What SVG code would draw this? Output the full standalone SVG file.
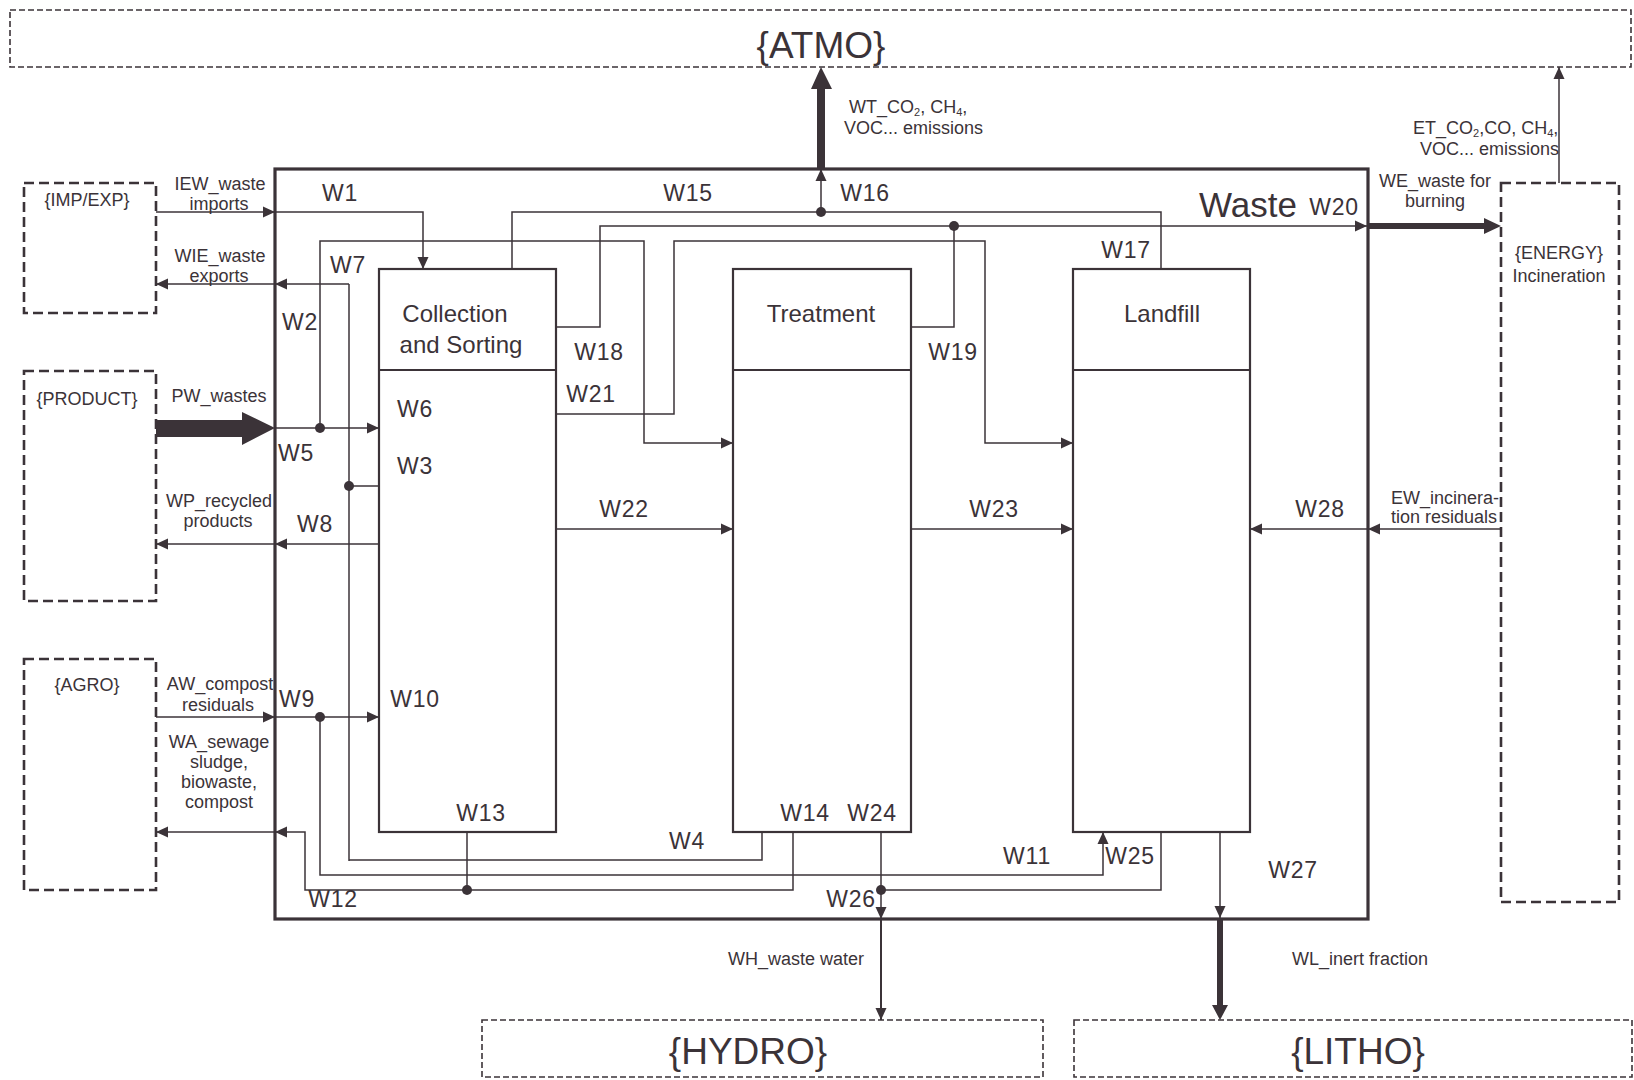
<svg xmlns="http://www.w3.org/2000/svg" width="1634" height="1080" viewBox="0 0 1634 1080">
<defs>
<style>
text{font-family:"Liberation Sans",Arial,sans-serif;fill:#3b3338}
.big{font-size:37px;text-anchor:middle}
.env{font-size:18px;text-anchor:middle}
.lab{font-size:18px;text-anchor:middle}
.w{font-size:23px;text-anchor:middle;letter-spacing:0.8px}
.t{font-size:24px;text-anchor:middle}
.sub{font-size:11px}
.dashA{fill:none;stroke:#3b3338;stroke-width:1.6;stroke-dasharray:6 3}
.dashB{fill:none;stroke:#3b3338;stroke-width:2.6;stroke-dasharray:10 5}
.box{fill:none;stroke:#3b3338;stroke-width:2.2}
.main{fill:none;stroke:#3b3338;stroke-width:3.2}
.c{fill:none;stroke:#3b3338;stroke-width:1.5}
.ca{fill:none;stroke:#3b3338;stroke-width:1.5;marker-end:url(#ah)}
.dot{fill:#3b3338}
.fill{fill:#3b3338;stroke:none}
</style>
<marker id="ah" markerUnits="userSpaceOnUse" markerWidth="12" markerHeight="12" viewBox="0 0 12 12" refX="12" refY="6" orient="auto"><path d="M0,0.5 L12,6 L0,11.5z" fill="#3b3338"/></marker>
</defs>
<rect width="1634" height="1080" fill="#ffffff"/>

<g id="atmo"><rect class="dashA" x="10" y="10" width="1621" height="57"/><text class="big" x="821" y="58">{ATMO}</text></g>
<g id="hydro"><rect class="dashA" x="482" y="1020" width="561" height="57"/><text class="big" x="748" y="1064">{HYDRO}</text></g>
<g id="litho"><rect class="dashA" x="1074" y="1020" width="558" height="57"/><text class="big" x="1358" y="1064">{LITHO}</text></g>
<g id="impexp"><rect class="dashB" x="24" y="183" width="132" height="130"/><text class="env" x="87" y="206">{IMP/EXP}</text></g>
<g id="product"><rect class="dashB" x="24" y="371" width="132" height="230"/><text class="env" x="87" y="405">{PRODUCT}</text></g>
<g id="agro"><rect class="dashB" x="24" y="659" width="132" height="231"/><text class="env" x="87" y="691">{AGRO}</text></g>
<g id="energy"><rect class="dashB" x="1501" y="183" width="118" height="719"/><text class="env" x="1559" y="259">{ENERGY}</text><text class="env" x="1559" y="282">Incineration</text></g>

<g id="waste"><rect class="main" x="275" y="169" width="1093" height="750"/><text x="1248" y="217" style="font-size:35px;text-anchor:middle">Waste</text></g>
<g id="collection"><rect class="box" x="379" y="269" width="177" height="563"/><line class="box" x1="379" y1="370" x2="556" y2="370"/><text class="t" x="455" y="322">Collection</text><text class="t" x="461" y="353">and Sorting</text></g>
<g id="treatment"><rect class="box" x="733" y="269" width="178" height="563"/><line class="box" x1="733" y1="370" x2="911" y2="370"/><text class="t" x="821" y="322">Treatment</text></g>
<g id="landfill"><rect class="box" x="1073" y="269" width="177" height="563"/><line class="box" x1="1073" y1="370" x2="1250" y2="370"/><text class="t" x="1162" y="322">Landfill</text></g>

<g id="connectors">
<path class="ca" d="M156,212 H275"/>
<path class="ca" d="M275,212 H423 V269"/>
<path class="c" d="M349,861 V284"/>
<path class="ca" d="M349,284 H275"/>
<path class="ca" d="M275,284 H156"/>
<path class="c" d="M379,486 H349"/>
<path class="c" d="M762,832 V860 H349"/>
<polygon class="fill" points="156,420 242,420 242,412 275,428 242,445 242,437 156,437"/>
<path class="ca" d="M275,428 H379"/>
<path class="ca" d="M320,428 V241 H644 V443 H733"/>
<path class="ca" d="M379,544 H275"/>
<path class="ca" d="M275,544 H156"/>
<path class="ca" d="M156,717 H275"/>
<path class="ca" d="M275,717 H379"/>
<path class="ca" d="M320,717 V875 H1103 V832"/>
<path class="c" d="M467,832 V890"/>
<path class="ca" d="M793,832 V890 H305 V832 H275"/>
<path class="ca" d="M275,832 H156"/>
<path class="c" d="M512,269 V212 H1161 V269"/>
<path class="ca" d="M821,212 V169"/>
<polygon class="fill" points="817,169 817,89 811,89 821,67 832,89 825,89 825,169"/>
<path class="ca" d="M1559,183 V67"/>
<path class="ca" d="M556,327 H600 V226 H1367"/>
<path class="c" d="M911,327 H954 V226"/>
<polygon class="fill" points="1368,223 1484,223 1484,218 1501,226 1484,234 1484,229 1368,229"/>
<path class="ca" d="M556,414 H674 V241 H985 V443 H1073"/>
<path class="ca" d="M556,529 H733"/>
<path class="ca" d="M911,529 H1073"/>
<path class="ca" d="M1501,529 H1368"/>
<path class="ca" d="M1368,529 H1250"/>
<path class="ca" d="M881,832 V919"/>
<path class="c" d="M1161,832 V890 H881"/>
<path d="M881,919 V1020" style="fill:none;stroke:#3b3338;stroke-width:2;marker-end:url(#ah)"/>
<path class="ca" d="M1220,832 V918"/>
<polygon class="fill" points="1217,919 1223,919 1223,1005 1228,1005 1220,1020 1212,1005 1217,1005"/>
<circle class="dot" cx="320" cy="428" r="5"/>
<circle class="dot" cx="349" cy="486" r="5"/>
<circle class="dot" cx="320" cy="717" r="5"/>
<circle class="dot" cx="467" cy="890" r="5"/>
<circle class="dot" cx="881" cy="890" r="5"/>
<circle class="dot" cx="821" cy="212" r="5"/>
<circle class="dot" cx="954" cy="226" r="5"/>
</g>

<g id="labels">
<text class="lab" x="220" y="190">IEW_waste</text>
<text class="lab" x="219" y="210">imports</text>
<text class="lab" x="220" y="262">WIE_waste</text>
<text class="lab" x="219" y="282">exports</text>
<text class="lab" x="219" y="402">PW_wastes</text>
<text class="lab" x="219" y="507">WP_recycled</text>
<text class="lab" x="218" y="527">products</text>
<text class="lab" x="220" y="690">AW_compost</text>
<text class="lab" x="218" y="711">residuals</text>
<text class="lab" x="219" y="748">WA_sewage</text>
<text class="lab" x="219" y="768">sludge,</text>
<text class="lab" x="219" y="788">biowaste,</text>
<text class="lab" x="219" y="808">compost</text>
<text class="lab" x="849" y="113" style="text-anchor:start">WT_CO<tspan class="sub" dy="3">2</tspan><tspan dy="-3">, CH</tspan><tspan class="sub" dy="3">4</tspan><tspan dy="-3">,</tspan></text>
<text class="lab" x="844" y="134" style="text-anchor:start">VOC... emissions</text>
<text class="lab" x="1413" y="134" style="text-anchor:start">ET_CO<tspan class="sub" dy="3">2</tspan><tspan dy="-3">,CO, CH</tspan><tspan class="sub" dy="3">4</tspan><tspan dy="-3">,</tspan></text>
<text class="lab" x="1420" y="155" style="text-anchor:start">VOC... emissions</text>
<text class="lab" x="1435" y="187">WE_waste for</text>
<text class="lab" x="1435" y="207">burning</text>
<text class="lab" x="1391" y="504" style="text-anchor:start">EW_incinera-</text>
<text class="lab" x="1391" y="523" style="text-anchor:start">tion residuals</text>
<text class="lab" x="796" y="965">WH_waste water</text>
<text class="lab" x="1360" y="965">WL_inert fraction</text>

<text class="w" x="340" y="201">W1</text>
<text class="w" x="300" y="330">W2</text>
<text class="w" x="348" y="273">W7</text>
<text class="w" x="296" y="461">W5</text>
<text class="w" x="415" y="417">W6</text>
<text class="w" x="415" y="474">W3</text>
<text class="w" x="315" y="532">W8</text>
<text class="w" x="297" y="707">W9</text>
<text class="w" x="415" y="707">W10</text>
<text class="w" x="333" y="907">W12</text>
<text class="w" x="481" y="821">W13</text>
<text class="w" x="805" y="821">W14</text>
<text class="w" x="872" y="821">W24</text>
<text class="w" x="687" y="849">W4</text>
<text class="w" x="851" y="907">W26</text>
<text class="w" x="1027" y="864">W11</text>
<text class="w" x="1130" y="864">W25</text>
<text class="w" x="1293" y="878">W27</text>
<text class="w" x="688" y="201">W15</text>
<text class="w" x="865" y="201">W16</text>
<text class="w" x="1126" y="258">W17</text>
<text class="w" x="1334" y="215">W20</text>
<text class="w" x="599" y="360">W18</text>
<text class="w" x="953" y="360">W19</text>
<text class="w" x="591" y="402">W21</text>
<text class="w" x="624" y="517">W22</text>
<text class="w" x="994" y="517">W23</text>
<text class="w" x="1320" y="517">W28</text>
</g>
</svg>
